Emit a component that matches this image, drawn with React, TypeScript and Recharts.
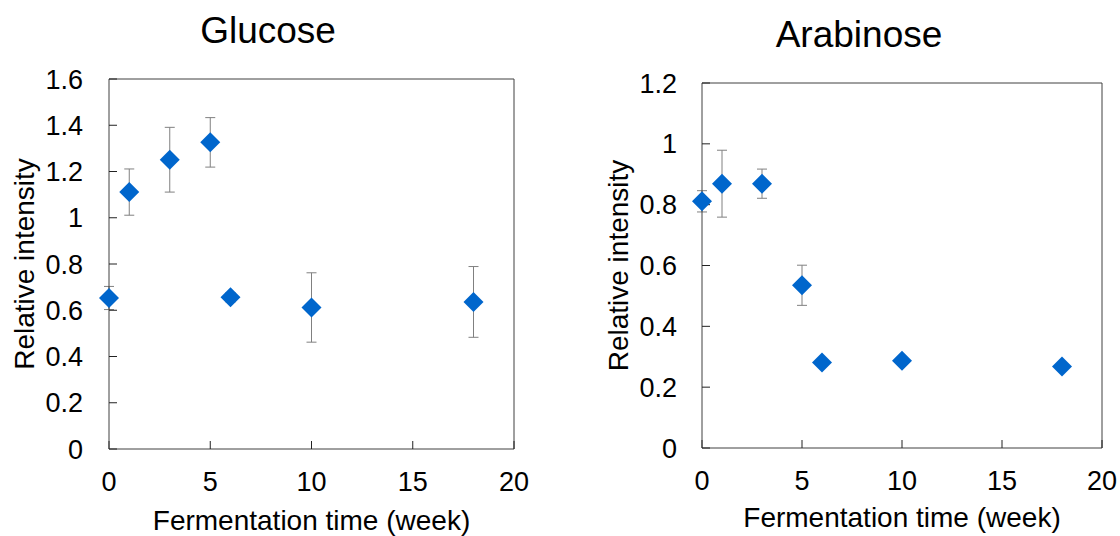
import { ScatterChart, Scatter, XAxis, YAxis, ErrorBar, ReferenceLine, Label } from "recharts";

// sampling times (weeks) shared by both sugars
const weeks = [0, 1, 3, 5, 6, 10, 18];
const glucoseMean = [0.653, 1.111, 1.251, 1.326, 0.656, 0.612, 0.636];
const glucoseErr = [0.05, 0.1, 0.14, 0.107, 0.02, 0.15, 0.153];
const arabinoseMean = [0.811, 0.869, 0.869, 0.535, 0.281, 0.287, 0.268];
const arabinoseErr = [0.035, 0.11, 0.048, 0.066, 0.01, 0.01, 0.01];

const weekTicks = [0, 5, 10, 15, 20];
const glucoseTicks = [0, 0.2, 0.4, 0.6, 0.8, 1, 1.2, 1.4, 1.6];
const arabinoseTicks = [0, 0.2, 0.4, 0.6, 0.8, 1, 1.2];

const BLUE = "#0066CC";
const BOX = "#404040";
const FONT = "Arial, 'Liberation Sans', Helvetica, sans-serif";

const Diamond = (props: any) => {
  const { cx, cy } = props;
  const r = 10;
  return <path d={`M${cx},${cy - r}L${cx + r},${cy}L${cx},${cy + r}L${cx - r},${cy}Z`} fill={BLUE} />;
};

type PanelProps = {
  title: string;
  titleX: number;
  titleY: number;
  mean: number[];
  err: number[];
  yTicks: number[];
  top: number;
  right: number;
  yAxisWidth: number;
  xAxisHeight: number;
  yTitleX: number;
  xTitleY: number;
  yGap: number;
};

function Panel(p: PanelProps) {
  const data = weeks.map((w, i) => ({ week: w, value: p.mean[i], err: p.err[i] }));
  const yMax = p.yTicks[p.yTicks.length - 1];
  return (
    <div style={{ position: "relative", width: 560, height: 536 }}>
      <ScatterChart width={560} height={536} margin={{ top: p.top, right: p.right, bottom: 0, left: 0 }}>
        <XAxis
          type="number"
          dataKey="week"
          domain={[0, 20]}
          ticks={weekTicks}
          height={p.xAxisHeight}
          stroke={BOX}
          tickSize={-8}
          tickMargin={31}
          tickLine={{ stroke: "#222" }}
          tick={{ fill: "#000", fontSize: 27 }}
        >
          <Label
            content={(lp: any) => {
              const vb = lp.viewBox;
              return (
                <text x={vb.x + vb.width / 2} y={p.xTitleY} textAnchor="middle" fontSize={28} fill="#000">
                  Fermentation time (week)
                </text>
              );
            }}
          />
        </XAxis>
        <YAxis
          type="number"
          dataKey="value"
          domain={[0, yMax]}
          ticks={p.yTicks}
          width={p.yAxisWidth}
          stroke={BOX}
          tickSize={-8}
          tickMargin={8 + p.yGap}
          tickLine={{ stroke: "#222" }}
          tick={{ fill: "#000", fontSize: 27 }}
        >
          <Label
            content={(lp: any) => {
              const vb = lp.viewBox;
              const cy = vb.y + vb.height / 2;
              return (
                <text
                  x={p.yTitleX}
                  y={cy}
                  transform={`rotate(-90 ${p.yTitleX} ${cy})`}
                  textAnchor="middle"
                  fontSize={28}
                  fill="#000"
                >
                  Relative intensity
                </text>
              );
            }}
          />
        </YAxis>
        <ReferenceLine y={yMax} stroke={BOX} />
        <ReferenceLine x={20} stroke={BOX} />
        <Scatter data={data} shape={Diamond} isAnimationActive={false}>
          <ErrorBar dataKey="err" direction="y" width={5} stroke="#808080" strokeWidth={1} />
        </Scatter>
      </ScatterChart>
      <svg width={560} height={80} style={{ position: "absolute", left: 0, top: 0, pointerEvents: "none" }}>
        <text x={p.titleX} y={p.titleY} textAnchor="middle" fontSize={37} fill="#000">
          {p.title}
        </text>
      </svg>
    </div>
  );
}

export default function App() {
  return (
    <div
      style={{
        position: "absolute",
        left: 0,
        top: 0,
        width: 1120,
        height: 536,
        display: "flex",
        background: "#fff",
        fontFamily: FONT,
      }}
    >
      <Panel
        title="Glucose"
        titleX={268}
        titleY={43}
        mean={glucoseMean}
        err={glucoseErr}
        yTicks={glucoseTicks}
        top={79}
        right={46}
        yAxisWidth={109}
        xAxisHeight={87}
        yTitleX={34}
        xTitleY={530}
        yGap={26}
      />
      <Panel
        title="Arabinose"
        titleX={299}
        titleY={47}
        mean={arabinoseMean}
        err={arabinoseErr}
        yTicks={arabinoseTicks}
        top={83}
        right={18}
        yAxisWidth={142}
        xAxisHeight={88}
        yTitleX={68}
        xTitleY={527}
        yGap={25}
      />
    </div>
  );
}
